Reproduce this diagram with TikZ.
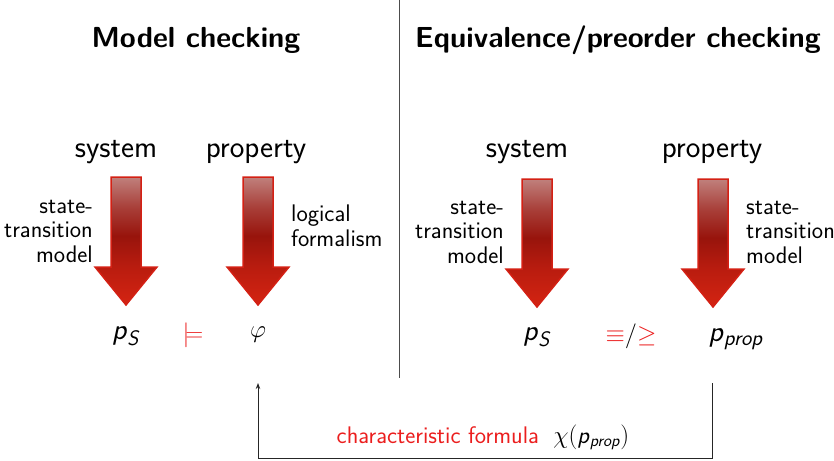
\documentclass[tikz,border=0pt]{standalone}
\usetikzlibrary{arrows.meta}
\definecolor{arrtop}{RGB}{192,128,124}
\definecolor{arrup}{RGB}{168,62,56}
\definecolor{arrmid}{RGB}{152,20,12}
\definecolor{arrlow}{RGB}{185,28,15}
\definecolor{arrbot}{RGB}{212,36,18}
\definecolor{arrborder}{RGB}{212,32,20}
\definecolor{relred}{RGB}{235,30,30}
\pgfdeclareverticalshading{redarrshade}{100bp}{%
  color(0bp)=(arrbot); color(25bp)=(arrbot); color(40bp)=(arrlow);
  color(52bp)=(arrmid); color(63bp)=(arrup); color(75bp)=(arrtop); color(100bp)=(arrtop)}
\newcommand{\sfi}[1]{\textsf{\slshape #1}}
\newcommand{\redarrow}[2]{%
  \path[draw=arrborder, line width=1.5pt, line join=miter, shading=redarrshade]
    (#1-15,#2) -- (#1+15,#2) -- (#1+15,#2+90) -- (#1+31,#2+90)
    -- (#1,#2+128) -- (#1-31,#2+90) -- (#1-15,#2+90) -- cycle;}
\tikzset{
  title/.style={font=\sffamily\bfseries\fontsize{29}{34}\selectfont, inner sep=0pt},
  head/.style={font=\sffamily\fontsize{31}{36}\selectfont, inner sep=0pt},
  side/.style={font=\sffamily\fontsize{24}{24.5}\selectfont, inner sep=0pt},
  term/.style={font=\fontsize{29.5}{34}\selectfont, inner sep=0pt},
  conn/.style={draw=black!85, line width=0.9pt},
}
\begin{document}
\begin{tikzpicture}[x=1pt,y=-1pt]
\useasboundingbox (0,0) rectangle (834,460);
% divider
\draw[black!70, line width=0.8pt] (399,0) -- (399,378);
% titles
\node[title] (t1) at (196,40) {Model checking};
\node[title] (t2) at (618,40) {Equivalence/preorder checking};
% headings
\node[head] (sys1) at (116,152) {system};
\node[head] (prop1) at (256,152) {property};
\node[head] (sys2) at (527,152) {system};
\node[head] (prop2) at (712,152) {property};
% arrows
\redarrow{126}{177}
\redarrow{258}{177}
\redarrow{537}{179}
\redarrow{713}{179}
% side labels
\node[side, align=right, anchor=east] (l1) at (93,231) {state-\\transition\\model};
\node[side, align=left, anchor=west] (l2) at (291,226) {logical\\formalism};
\node[side, align=right, anchor=east] (l3) at (504,232) {state-\\transition\\model};
\node[side, align=left, anchor=west] (l4) at (746,232) {state-\\transition\\model};
% terms
\node[term] (ps1) at (126,336) {\sfi{p}$_{\mbox{\fontsize{21}{21}\selectfont\sfi{S}}}$};
\node[term, text=relred] (models) at (193,335) {$\models$};
\node[term] (phi) at (258,335) {$\varphi$};
\node[term] (ps2) at (537,337) {\sfi{p}$_{\mbox{\fontsize{21}{21}\selectfont\sfi{S}}}$};
\node[term] (eq) at (631,336) {\textcolor{relred}{$\equiv$}$/$\textcolor{relred}{$\geq$}};
\node[term] (pprop) at (736,339) {\sfi{p}$_{\mbox{\fontsize{22}{22}\selectfont\sfi{prop}}}$};
% connector
\coordinate (cstart) at (712,383);
\coordinate (cend) at (258,383);
\draw[conn, -{Stealth[length=6pt,width=4.5pt]}] (cstart) -- (712,458) -| (cend);
\node[side, anchor=base] (cf) at (483,443) {\textcolor{relred}{characteristic formula}\hspace{0.6em}$\chi($\sfi{p}$_{\mbox{\fontsize{17}{17}\selectfont\sfi{prop}}})$};
\end{tikzpicture}
\end{document}
